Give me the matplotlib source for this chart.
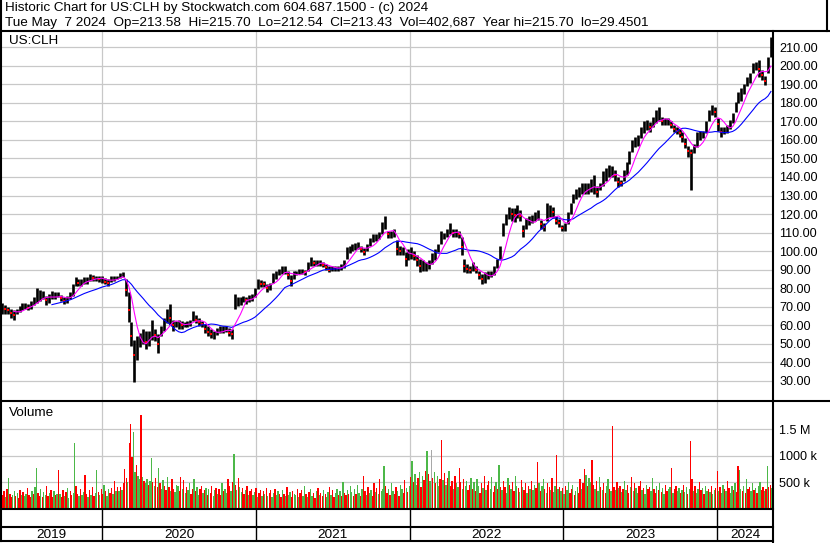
import matplotlib
matplotlib.use('Agg')
import matplotlib.pyplot as plt
import pandas as pd

plt.rcParams['font.family'] = ['Liberation Sans', 'DejaVu Sans']

# weekly price range and close (May 2019 - May 2024)
week_lo = [
    66, 66, 66, 64, 63, 66, 67, 68, 69, 68,
    69, 71, 72, 73, 74, 71, 72, 74, 74, 75,
    73, 71.4, 72, 74, 76, 81, 81, 81, 82, 82,
    84, 84, 84, 83.5, 83, 82, 81.4, 83.5, 84, 85,
    85.5, 86, 76, 62, 49, 29.5, 41, 48, 50, 47,
    48.8, 52, 51.5, 45, 54, 57, 61, 60, 57, 58.8,
    57.8, 58, 58.8, 59, 59.6, 62.4, 61, 59.6, 58.8, 56,
    54, 53, 52.4, 54.5, 56, 56, 56.5, 54, 52.4, 68.7,
    70.5, 71, 72.3, 71.5, 72.5, 73, 75, 79.6, 80.5, 80.5,
    78, 79, 83, 85, 87, 87.7, 87.7, 85, 81.4, 85,
    87, 87.7, 87.5, 87, 89, 92, 92, 92, 92, 91.4,
    90, 88.6, 89.5, 89.5, 89.5, 90, 91, 96, 99, 100,
    100.5, 101, 99.5, 97.7, 100, 103, 105, 105.5, 106.7, 109,
    112, 107, 107, 107.6, 98, 97.7, 97.7, 92, 95, 96,
    95, 92, 88.6, 89, 89.5, 90.5, 93, 95, 99.5, 104,
    106.7, 107.5, 109, 107.6, 107.6, 107, 98, 88.6, 88, 88,
    89.5, 88, 85, 82.3, 83, 85, 86, 87, 91, 96,
    108, 114, 117.5, 116, 115.7, 118, 116, 107.7, 112, 114,
    115, 116, 116.7, 112, 111, 116, 118.5, 118, 114.5, 113,
    111, 111, 114.9, 120, 125.7, 128, 129, 131, 131, 131,
    132, 131, 129, 133, 135, 138, 140, 140, 138, 134.7,
    135, 138, 141, 147, 153.6, 156.3, 157, 161, 164, 165.3,
    164.4, 167, 169, 170, 168, 168, 168, 166.2, 164.4, 163,
    161.7, 159, 155.4, 151, 132.9, 152.7, 156, 160, 161, 164,
    170, 173.4, 172.5, 165, 161.7, 163, 164, 166, 169, 175.2,
    180, 181, 185, 189, 190.5, 196, 197.7, 194, 192.3, 189.6,
    196, 205,
]
week_hi = [
    72, 71, 70, 69, 68, 69, 70.5, 72, 72, 71.5,
    73, 75, 80, 79, 78.5, 76, 77, 78.5, 78, 77.7,
    76.5, 75, 76, 77.7, 82, 86, 85, 85, 86, 86,
    87.7, 87, 86.8, 86.8, 86.8, 85.5, 85, 86.5, 86.8, 86.8,
    88, 88.6, 85, 77.7, 62, 52, 54, 56, 58, 57,
    57, 63, 58, 55, 59.6, 64, 69, 71.4, 63, 62.4,
    63, 62.5, 62, 62.5, 63, 67.8, 65.5, 64, 62.5, 60.5,
    59.6, 58, 57, 58.5, 59.6, 59.6, 59.6, 58.5, 58, 76.8,
    75, 75.5, 76, 75.5, 76.5, 77, 80, 85, 84.5, 84,
    82, 83, 88, 89, 90.5, 92, 92, 89.5, 87, 89.5,
    89.5, 90.5, 90.5, 90, 94, 96.8, 95, 95, 95, 94,
    93, 92, 92, 92, 92, 93, 95, 102, 103, 104,
    104.5, 105, 103, 101.5, 104, 107, 109, 109.5, 110.5, 115.7,
    118.9, 111, 111, 112, 106, 103, 102, 99.5, 101, 102,
    100, 98, 96, 95, 94, 95, 99, 101, 104, 111,
    110, 112, 115, 112, 112, 111, 107.6, 96, 93, 92,
    94, 92, 89.5, 87.7, 88.6, 89.5, 89.5, 92, 96, 103,
    115, 120, 124, 123.5, 123, 125, 122, 114, 118, 119,
    119.4, 121, 122, 117, 115, 125.7, 124.8, 124, 119, 117.5,
    114, 115, 121, 125.7, 131, 133.5, 134.7, 136.5, 136.5, 136.5,
    139, 141, 135, 136.5, 143, 145, 146.4, 146, 144, 140,
    138.5, 144, 148, 154, 160, 161.7, 162.6, 167, 170, 170.7,
    169.5, 172.5, 176, 178, 172.5, 172, 172, 170, 168, 167,
    166, 164.4, 161, 157, 155, 158, 164.4, 165, 165, 170,
    176, 178.8, 178, 172, 167, 167, 168, 171, 174.3, 180.6,
    186, 187.8, 190, 194, 196, 201.4, 202.3, 203, 198, 194.5,
    205, 215.7,
]
week_close = [
    69, 68.5, 68, 66.5, 65.5, 67.5, 69, 70, 70.5, 69.5,
    71, 73, 76, 76, 76, 73.5, 74.5, 76, 76, 76.5,
    74.5, 73, 74, 76, 80, 83.5, 83, 83, 84, 84,
    86, 85.5, 85.5, 85, 85, 83.5, 83, 85, 85.5, 86,
    87, 87.5, 79, 68, 54, 44, 49, 52, 54, 51,
    53, 58, 54.5, 50, 57, 61, 66, 64, 60, 60.5,
    60.5, 60, 60.5, 61, 61.5, 65, 63, 61.5, 60.5, 58,
    56.5, 55, 55, 56.5, 58, 58, 58, 56, 55, 73,
    73, 73, 74, 73.5, 75, 75, 78, 83, 82.5, 82,
    80, 81, 86, 87, 89, 90, 90, 87, 84, 87.5,
    88.5, 89, 89, 88.5, 92, 94.5, 93.5, 93.5, 93.5, 92.5,
    91.5, 90, 91, 91, 91, 91.5, 93, 99, 101, 102,
    102.5, 103, 101, 99.5, 102, 105, 107, 107.5, 108.5, 112.5,
    115, 109, 109, 110, 101, 100, 100, 96, 98, 99,
    97.5, 95, 92, 92, 92, 93, 96, 98, 102, 108,
    108.5, 110, 112, 110, 110, 109, 102, 92, 90.5, 90,
    92, 90, 87, 85, 86, 87, 88, 89.5, 93.5, 100,
    112, 117, 121, 120, 119.5, 121.5, 119, 111, 115, 116.5,
    117, 118.5, 119.5, 114.5, 113, 121, 121.5, 121, 116.5, 115,
    112.5, 113, 118, 123, 128.5, 131, 132, 134, 134, 134,
    135.5, 136, 132, 135, 139, 141.5, 143, 143, 141, 137.5,
    137, 141, 144.5, 150.5, 157, 159, 160, 164, 167, 168,
    167, 170, 172.5, 174, 170, 170, 170, 168, 166, 165,
    164, 161.5, 158, 154, 153, 155.5, 160, 162.5, 163, 167,
    173, 176, 175, 168.5, 164.5, 165, 166, 168.5, 171.5, 178,
    183, 184.5, 187.5, 191.5, 193, 198.5, 200, 198.5, 195, 192,
    200.5, 213.4,
]

# volume in thousands, two readings per week, with bar colour codes
volume_k = [
    310, 260, 340, 230, 380, 580, 290, 220, 270, 340, 250, 310, 200, 360, 270, 320, 240, 290, 390, 260,
    220, 340, 280, 410, 775, 300, 250, 380, 230, 320, 270, 430, 240, 300, 350, 220, 330, 260, 290, 736,
    280, 230, 360, 250, 320, 390, 210, 340, 270, 300, 1246, 430, 290, 240, 370, 260, 320, 640, 280, 230,
    350, 270, 410, 240, 300, 736, 320, 260, 380, 290, 460, 330, 250, 370, 310, 390, 280, 520, 340, 410,
    340, 410, 360, 480, 760, 580, 500, 1246, 1600, 980, 1440, 700, 830, 620, 560, 1770, 600, 520, 480, 560,
    460, 530, 955, 500, 440, 580, 410, 780, 490, 380, 540, 430, 360, 600, 410, 340, 560, 380, 320, 460,
    430, 330, 600, 380, 540, 300, 420, 360, 490, 280, 380, 560, 330, 410, 270, 370, 440, 300, 350, 390,
    260, 380, 310, 430, 240, 350, 400, 290, 370, 260, 480, 330, 380, 300, 560, 430, 340, 500, 1027, 460,
    360, 580, 410, 320, 390, 280, 350, 430, 270, 340, 380, 260, 320, 400, 230, 300, 360, 250, 330, 280,
    390, 240, 310, 350, 220, 300, 380, 260, 330, 280, 230, 360, 290, 250, 410, 270, 320, 230, 340, 290,
    260, 370, 220, 310, 350, 240, 430, 280, 230, 320, 380, 250, 300, 210, 340, 400, 270, 310, 240, 360,
    290, 230, 320, 410, 260, 350, 220, 300, 380, 270, 330, 240, 500, 310, 260, 360, 280, 430, 320, 250,
    370, 290, 460, 310, 240, 380, 620, 330, 270, 420, 300, 360, 250, 480, 320, 390, 280, 560, 340, 380,
    814, 430, 310, 370, 260, 490, 340, 280, 410, 330, 250, 460, 370, 300, 540, 390, 320, 430, 600, 910,
    500, 650, 460, 580, 700, 410, 620, 540, 720, 1085, 660, 520, 1105, 580, 700, 480, 620, 440, 560, 1300,
    540, 680, 460, 580, 720, 430, 520, 380, 620, 480, 410, 780, 500, 370, 560, 440, 520, 360, 460, 580,
    380, 510, 340, 560, 430, 300, 480, 390, 620, 350, 460, 530, 380, 600, 320, 440, 500, 370, 833, 420,
    350, 530, 410, 310, 580, 460, 370, 500, 340, 620, 430, 390, 320, 550, 410, 360, 480, 300, 440, 380,
    530, 350, 460, 400, 890, 490, 340, 430, 560, 380, 300, 480, 410, 350, 580, 320, 440, 1007, 370, 420,
    330, 390, 280, 440, 360, 500, 310, 380, 450, 260, 340, 420, 300, 560, 380, 480, 750, 640, 430, 580,
    500, 930, 460, 380, 530, 340, 600, 420, 360, 480, 310, 440, 560, 380, 330, 1556, 410, 350, 500, 390,
    440, 320, 380, 530, 360, 460, 300, 410, 600, 340, 480, 390, 310, 430, 520, 350, 400, 290, 460, 370,
    420, 330, 580, 380, 300, 440, 360, 490, 320, 400, 280, 450, 340, 380, 420, 780, 310, 370, 430, 330,
    390, 300, 360, 460, 320, 410, 280, 370, 1280, 560, 340, 430, 310, 380, 500, 350, 400, 290, 440, 330,
    380, 320, 430, 280, 360, 400, 717, 340, 420, 300, 460, 370, 330, 530, 390, 310, 440, 360, 480, 320,
    814, 736, 380, 340, 430, 300, 560, 370, 410, 330, 480, 350, 390, 310, 440, 500, 360, 420, 330, 380,
    814, 410, 460, 393,
]
volume_col = ''.join([
    "GRRGRGRRGGRGRRGRGGRR", "RGRGGRRGRGGRRGRRGRGR", "GRRGRGGRRGGRRGRGGRRG",
    "RGRRGGRGRRGRGGRRGRGR", "GRGRRRGRRRGGRGGRGRGG", "RGGRGRRGRGGRRGRGRRGG",
    "GRRGRGRGGRRGRGGRRGRG", "RGRRGGRGRRGRGGRRGRGR", "GRGGRRGRGRRGGRGRRGRG",
    "RGRRGGRGGRRGRGRGGRRG", "GRGRRGGRGRGGRRGRGRRG", "RGGRGRRGGRGRGRRGRGGR",
    "GRGGRGRRGRGGRRGRGRGG", "GRRGRGGRRGRGGRRGRGRG", "RGGRGRGRRGRGNRGRGGRR",
    "GRGRGRRGRGGRRGRGGRRG", "RGRGGRRGRGRRGGRRGRGR", "GRRGGRGRRGGRGRGRRGRG",
    "RGGRRGRGGRGRRGRGGRGR", "GRGRGGRRGRGGRRGRRGRG", "GRRGRGGRGRRGGRGRRGRG",
    "RGRGGRRGRGRGGRRGRGGR", "RGGRRGRGRGGRRGGRGRRG", "GRGRGGRGRRGRGGRRGRGG",
    "RGRGGRRGRGGRGRRGGRGR", "RGGRGRGRRGGRGRGGRRGR", "GRRG",
])

year_names = ['2019', '2020', '2021', '2022', '2023', '2024']
year_starts = pd.to_datetime(['2020-01-01', '2021-01-01', '2022-01-01',
                              '2023-01-01', '2024-01-01'])
price_ticks = list(range(30, 211, 10))
vol_ticks = [500, 1000, 1500]
vol_labels = ['500 k', '1000 k', '1.5 M']

header1 = 'Historic Chart for US:CLH by Stockwatch.com 604.687.1500 - (c) 2024'
header2 = ('Tue May  7 2024  Op=213.58  Hi=215.70  Lo=212.54  Cl=213.43  '
           'Vol=402,687  Year hi=215.70  lo=29.4501')

W, H = 830, 543
x_start, x_end = pd.Timestamp('2019-05-06'), pd.Timestamp('2024-05-13')
grid_col = '#c8c8c8'
fs = 9.7       # captions
fs_tick = 9.1  # axis labels


def box(x0, y0, x1, y1):
    # pixel box (top-left origin) -> figure fraction
    return [x0 / W, 1 - y1 / H, (x1 - x0) / W, (y1 - y0) / H]


fig = plt.figure(figsize=(W / 100, H / 100), dpi=100)
ax = fig.add_axes(box(1, 31, 773, 401))
axv = fig.add_axes(box(1, 401, 773, 509))
axy = fig.add_axes(box(1, 509, 773, 541))

# price panel
wk = pd.date_range('2019-05-08', periods=len(week_hi), freq='7D')
close = pd.Series(week_close, index=wk)
ma_fast = close.rolling(5).mean()
ma_slow = close.rolling(18).mean()

ax.vlines(wk, week_lo, week_hi, color='black', lw=1.9)
down = (close.diff() < 0).values
ax.plot(wk[down], close.values[down], 's', color='red', ms=2.0, mew=0)
ax.plot(wk, ma_slow, color='#0000ff', lw=0.8)
ax.plot(wk, ma_fast, color='#ff00ff', lw=0.8)

ax.set_xlim(x_start, x_end)
ax.set_ylim(19.1, 218.8)
ax.set_yticks(price_ticks)
ax.yaxis.set_major_formatter(lambda v, p: f'{v:.2f}')
ax.yaxis.tick_right()
ax.set_xticks(year_starts)
ax.tick_params(axis='y', length=0, pad=4.5, labelsize=fs_tick)
ax.tick_params(axis='x', length=0, labelbottom=False)
ax.grid(True, color=grid_col, lw=0.9)
ax.set_axisbelow(True)

# volume panel
vd = pd.date_range('2019-05-06', '2024-05-10', periods=len(volume_k))
cmap = {'G': '#4cb848', 'R': '#ff0000', 'N': '#a8a8a8'}
cols = [cmap[c] for c in volume_col]
axv.bar(vd, volume_k, width=3.3, color=cols, linewidth=0)
axv.set_xlim(x_start, x_end)
axv.set_ylim(0, 2030)
axv.set_yticks(vol_ticks)
axv.set_yticklabels(vol_labels)
axv.yaxis.tick_right()
axv.set_xticks(year_starts)
axv.tick_params(axis='y', length=0, pad=4.5, labelsize=fs_tick)
axv.tick_params(axis='x', length=0, labelbottom=False)
axv.grid(True, color=grid_col, lw=0.9)
axv.set_axisbelow(True)

for a in (ax, axv):
    for s in a.spines.values():
        s.set_visible(False)

# year strip
axy.set_xlim(x_start, x_end)
axy.set_ylim(0, 1)
axy.axis('off')
axy.vlines(year_starts, 0, 1, color='black', lw=1.0)
edges = [x_start] + list(year_starts) + [x_end]
for name, a, b in zip(year_names, edges[:-1], edges[1:]):
    axy.text(a + (b - a) / 2, 0.19, name, ha='center', va='center', fontsize=fs)

# frame lines and captions in pixel coordinates
ov = fig.add_axes([0, 0, 1, 1], zorder=10)
ov.set_xlim(0, W)
ov.set_ylim(H, 0)
ov.axis('off')
ov.patch.set_alpha(0)
lw = 1.5
ov.plot([0, W], [31, 31], color='black', lw=lw)
ov.plot([827, 827], [0, 31], color='black', lw=lw)
ov.plot([1, 1], [0, 541], color='black', lw=lw)
ov.plot([0, W], [401, 401], color='black', lw=lw)
ov.plot([773, 773], [31, H], color='black', lw=lw)
for yy in (509, 527, 541):
    ov.plot([0, 773], [yy, yy], color='black', lw=lw)

ov.text(5, 8.5, header1, va='center', fontsize=fs)
ov.text(5, 23, header2, va='center', fontsize=fs)
ov.text(9, 41.5, 'US:CLH', va='center', fontsize=fs)
ov.text(9, 413, 'Volume', va='center', fontsize=fs)

fig.savefig('out.png', dpi=100)
